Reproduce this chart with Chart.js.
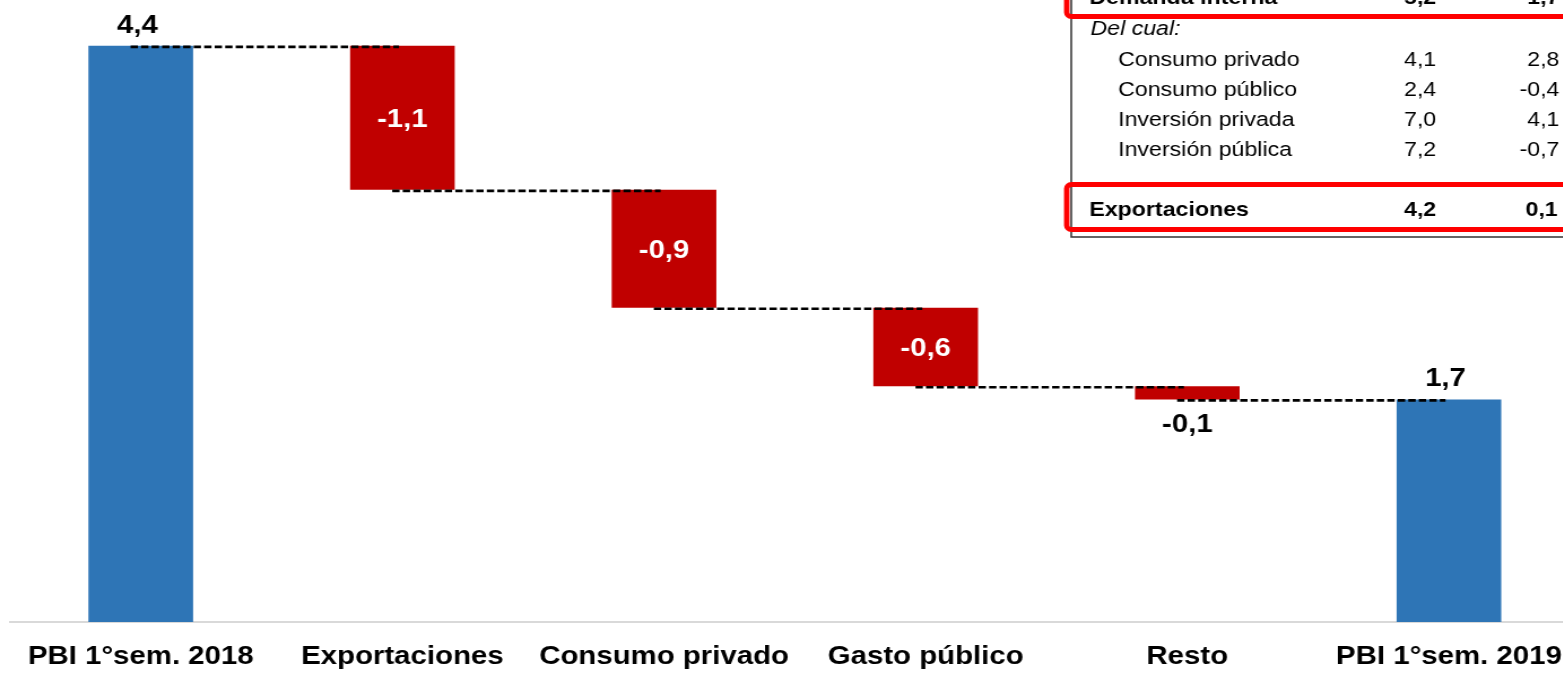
<!DOCTYPE html>
<html>
<head>
<meta charset="utf-8">
<script src="https://cdn.jsdelivr.net/npm/chart.js@4/dist/chart.umd.min.js"></script>
<style>
  html, body { margin: 0; padding: 0; background: #fff; overflow: hidden; }
  body { width: 1563px; height: 673px; position: relative; }
  /* the whole figure is drawn a bit narrower and stretched sideways */
  #wrap { position: absolute; left: 0; top: 0; width: 1402px; height: 673px;
          transform: scaleX(1.13); transform-origin: 0 0; }
</style>
</head>
<body>
<div id="wrap"><canvas id="chart" width="1402" height="673"></canvas></div>
<script>
//waterfall data (growth contributions, %)
const categories = ["PBI 1°sem. 2018", "Exportaciones", "Consumo privado", "Gasto público", "Resto", "PBI 1°sem. 2019"];
const changes = [4.4, -1.1, -0.9, -0.6, -0.1, 1.7];
const isTotal = [true, false, false, false, false, true];

//side table values (2018 / 2019)
const demandRow = ["Demanda interna", 5.2, 1.7];
const tableRows = ["Consumo privado", "Consumo público", "Inversión privada", "Inversión pública"];
const table2018 = [4.1, 2.4, 7.0, 7.2];
const table2019 = [2.8, -0.4, 4.1, -0.7];
const exportRow = ["Exportaciones", 4.2, 0.1];

const BLUE = "#2E75B6";
const RED = "#C00000";
const FONT = '"Liberation Sans", Arial, sans-serif';

function fmt(v) {
  return v.toFixed(1).replace(".", ",");
}

//builds floating bars and the running level after each bar
const levels = [];
let level = 0;
const floats = changes.map((c, i) => {
  if (isTotal[i]) {
    level = c;
    levels.push(level);
    return [0, c];
  }
  const from = level;
  level = Math.round((level + c) * 10) / 10;
  levels.push(level);
  return [level, from];
});

//dashed connectors + value labels
const waterfallExtras = {
  id: "waterfallExtras",
  afterDatasetsDraw(chart) {
    const ctx = chart.ctx;
    const x = chart.scales.x;
    const y = chart.scales.y;
    ctx.save();
    ctx.strokeStyle = "#000";
    ctx.lineWidth = 2.6;
    ctx.setLineDash([6.5, 2.8]);
    for (let i = 0; i < levels.length - 1; i++) {
      const py = y.getPixelForValue(levels[i]) + 1;
      ctx.beginPath();
      ctx.moveTo(x.getPixelForValue(i) - 9, py);
      ctx.lineTo(x.getPixelForValue(i + 1) - 3, py);
      ctx.stroke();
    }
    ctx.setLineDash([]);

    ctx.font = "bold 26px " + FONT;
    ctx.textAlign = "center";
    chart.getDatasetMeta(0).data.forEach((bar, i) => {
      const top = Math.min(bar.y, bar.base);
      const bottom = Math.max(bar.y, bar.base);
      const label = fmt(changes[i]);
      if (isTotal[i]) {
        ctx.fillStyle = "#000";
        ctx.textBaseline = "alphabetic";
        ctx.fillText(label, bar.x - 3, top - 13);
      } else if (bottom - top > 40) {
        ctx.fillStyle = "#fff";
        ctx.textBaseline = "middle";
        ctx.fillText(label, bar.x, (top + bottom) / 2 + 2);
      } else {
        ctx.fillStyle = "#000";
        ctx.textBaseline = "top";
        ctx.fillText(label, bar.x, bottom + 12);
      }
    });
    ctx.restore();
  },
};

//small growth table in the upper right corner
const sideTable = {
  id: "sideTable",
  afterDraw(chart) {
    const ctx = chart.ctx;
    const col1 = 1271, col2 = 1380;
    ctx.save();

    //frame
    ctx.strokeStyle = "#333";
    ctx.lineWidth = 1.5;
    ctx.beginPath();
    ctx.moveTo(948, -10);
    ctx.lineTo(948, 237);
    ctx.lineTo(1420, 237);
    ctx.stroke();

    //red highlight boxes
    ctx.strokeStyle = "#FF0000";
    ctx.lineWidth = 4.8;
    ctx.beginPath();
    ctx.roundRect(944, -40, 520, 56.5, 4);
    ctx.stroke();
    ctx.beginPath();
    ctx.roundRect(944, 184.5, 520, 45, 4);
    ctx.stroke();

    ctx.fillStyle = "#000";
    ctx.textBaseline = "alphabetic";

    ctx.font = "bold 20.5px " + FONT;
    ctx.textAlign = "left";
    ctx.fillText(demandRow[0], 964, 4);
    ctx.fillText(exportRow[0], 964, 216);
    ctx.textAlign = "right";
    ctx.fillText(fmt(demandRow[1]), col1, 4);
    ctx.fillText(fmt(demandRow[2]), col2, 4);
    ctx.fillText(fmt(exportRow[1]), col1, 216);
    ctx.fillText(fmt(exportRow[2]), col2 - 1.5, 216);

    ctx.font = "italic 20.5px " + FONT;
    ctx.textAlign = "left";
    ctx.fillText("Del cual:", 965, 35);

    ctx.font = "20.5px " + FONT;
    tableRows.forEach((name, i) => {
      const by = 65.5 + i * 30;
      ctx.textAlign = "left";
      ctx.fillText(name, 989.5, by);
      ctx.textAlign = "right";
      ctx.fillText(fmt(table2018[i]), col1, by);
      ctx.fillText(fmt(table2019[i]), col2, by);
    });
    ctx.restore();
  },
};

const ctx = document.getElementById("chart").getContext("2d");
const myChart = new Chart(ctx, {
  type: "bar",
  data: {
    labels: categories,
    datasets: [
      {
        data: floats,
        backgroundColor: isTotal.map((t) => (t ? BLUE : RED)),
        borderWidth: 0,
        barPercentage: 0.4,
        categoryPercentage: 1,
      },
    ],
  },
  options: {
    responsive: false,
    animation: false,
    layout: { padding: { left: 8.8, right: 4, top: 0, bottom: 0 } },
    plugins: {
      legend: { display: false },
      tooltip: { enabled: false },
    },
    scales: {
      x: {
        grid: { display: false, drawTicks: false },
        border: { display: true, color: "#D9D9D9", width: 2 },
        ticks: {
          color: "#000",
          padding: 19,
          maxRotation: 0,
          autoSkip: false,
          font: { family: FONT, size: 26, weight: "bold" },
        },
        afterFit(scale) {
          scale.height = 51;
        },
      },
      y: {
        display: false,
        min: 0,
        max: 4.75,
      },
    },
  },
  plugins: [waterfallExtras, sideTable],
});
</script>
</body>
</html>
